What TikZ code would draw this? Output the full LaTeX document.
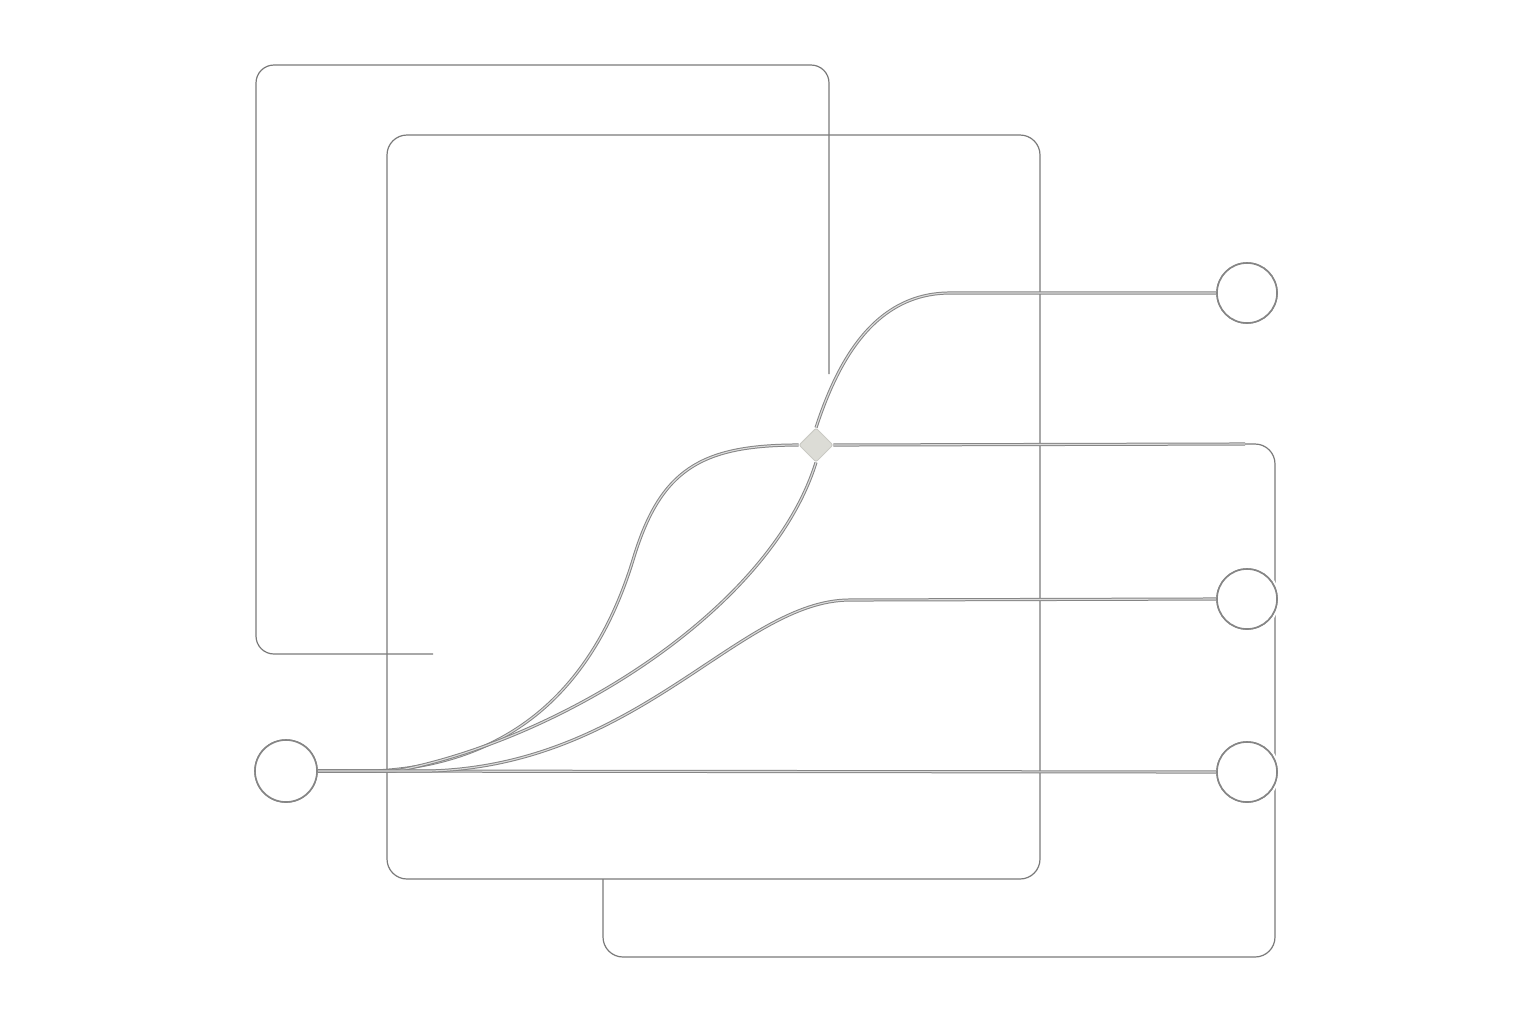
\documentclass[tikz,border=0pt]{standalone}
\usetikzlibrary{shapes.geometric}
\definecolor{boxgray}{HTML}{7A7A7A}
\definecolor{conngray}{HTML}{858585}
\definecolor{conninner}{HTML}{DADADA}
\definecolor{dfill}{HTML}{DCDCD6}
\definecolor{dline}{HTML}{CACAC4}
\tikzset{
  frame/.style={draw=boxgray, line width=0.6pt},
  conn/.style={draw=conngray, line width=0.5pt, double=conninner, double distance=0.55pt},
  port/.style={circle, draw=conngray, line width=0.8pt, fill=white, inner sep=0pt},
  halo/.style={circle, draw=white, line width=3pt, fill=white, inner sep=0pt},
  junction/.style={diamond, fill=dfill, draw=dline, line width=0.4pt, inner sep=0pt,
    minimum width=17pt, minimum height=17pt, rounded corners=1pt}
}
\begin{document}
\begin{tikzpicture}[x=0.5pt, y=-0.5pt]
\useasboundingbox (0,0) rectangle (1536,1024);
\fill[white] (0,0) rectangle (1536,1024);
% frames
\draw[frame, rounded corners=9pt] (433,654) -- (256,654) -- (256,65) -- (829,65) -- (829,374);
\draw[frame, rounded corners=10pt] (387,135) rectangle (1040,879);
\draw[frame, rounded corners=10pt] (1235,444) -- (1275,444) -- (1275,957) -- (603,957) -- (603,879);
% halos behind the ports
\node[halo, minimum size=30pt] (H1) at (1247,293) {};
\node[halo, minimum size=30pt] (H2) at (1247,599) {};
\node[halo, minimum size=30pt] (H3) at (1247,772) {};
% nodes
\node[port, minimum size=31pt] (L) at (286,771) {};
\node[port, minimum size=30pt] (R1) at (1247,293) {};
\node[port, minimum size=30pt] (R2) at (1247,599) {};
\node[port, minimum size=30pt] (R3) at (1247,772) {};
\node[junction] (D) at (816,445) {};
\coordinate (c1) at (950,293);
\coordinate (c2) at (850,600);
\coordinate (c3) at (1245,444);
% connectors
\draw[conn] (L.east) -- (R3.west);
\draw[conn] (L.east) -- (375,771) .. controls (500,765) and (590,700) .. (633,560)
   .. controls (660,470) and (700,445) .. (D.west);
\draw[conn] (L.east) -- (395,771) .. controls (560,740) and (770,610) .. (D.south);
\draw[conn] (D.north) .. controls (835,370) and (870,293) .. (c1) -- (R1.west);
\draw[conn] (L.east) -- (430,771) .. controls (640,765) and (740,600) .. (c2) -- (R2.west);
\draw[conn] (D.east) -- (c3);
% redraw nodes on top
\node[port, minimum size=31pt] at (L) {};
\node[port, minimum size=30pt] at (R1) {};
\node[port, minimum size=30pt] at (R2) {};
\node[port, minimum size=30pt] at (R3) {};
\node[junction] at (D) {};
\end{tikzpicture}
\end{document}
